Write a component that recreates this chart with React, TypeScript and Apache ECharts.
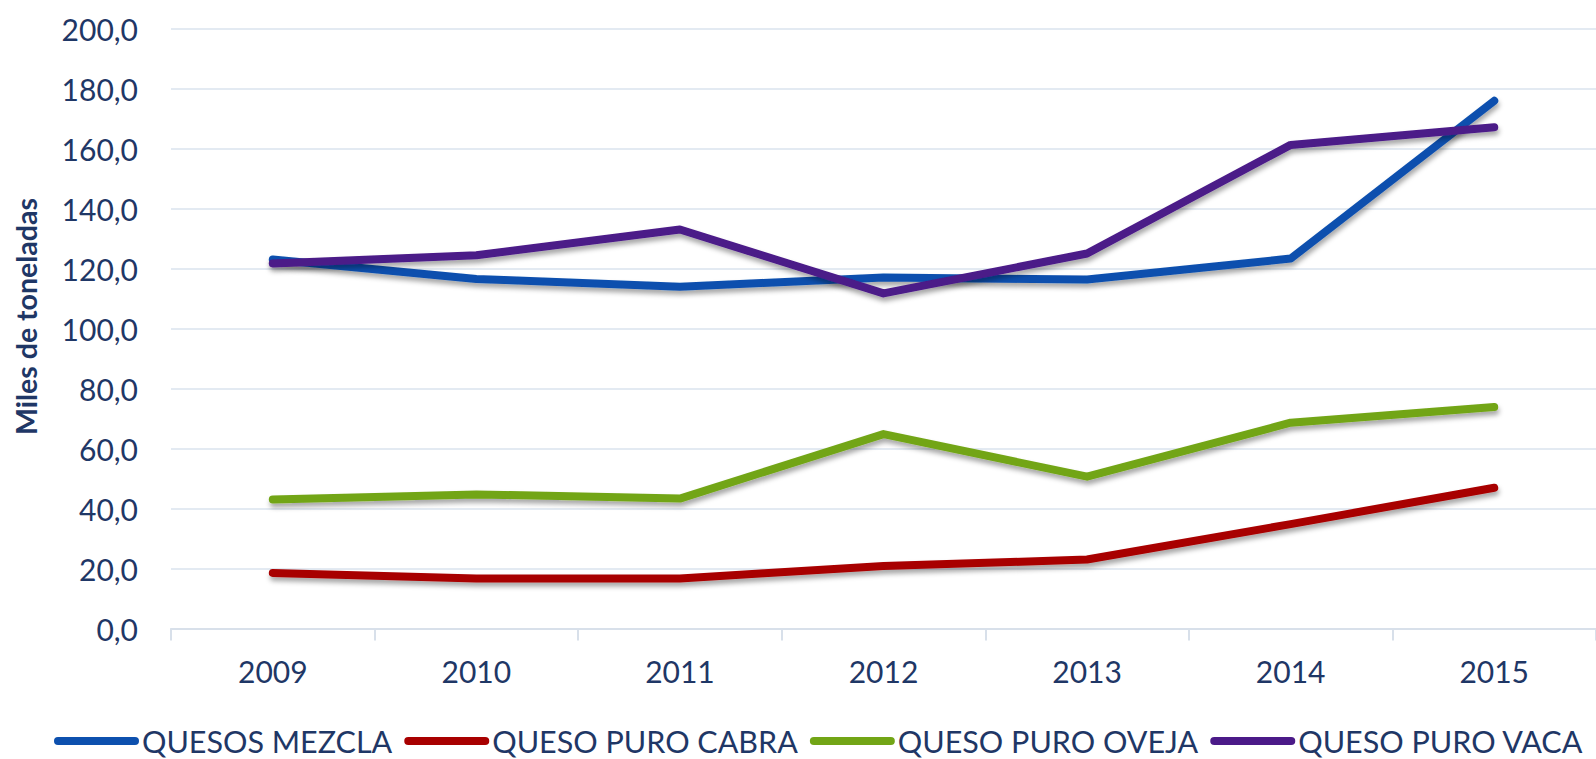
import React, { useEffect, useRef } from "react";
import * as echarts from "echarts";

const categories = ["2009", "2010", "2011", "2012", "2013", "2014", "2015"];
const seriesNames = ["QUESOS MEZCLA", "QUESO PURO CABRA", "QUESO PURO OVEJA", "QUESO PURO VACA"];
const mezcla = [123.0, 116.5, 113.9, 117.0, 116.3, 123.3, 175.9];
const cabra = [18.5, 16.7, 16.7, 20.8, 23.0, 34.8, 46.9];
const oveja = [43.0, 44.7, 43.3, 64.8, 50.6, 68.6, 73.8];
const vaca = [121.7, 124.4, 133.0, 111.7, 125.0, 161.2, 167.1];
const colors = ["#0d50ae", "#a80000", "#72a516", "#4b1a88"];
const yAxisName = "Miles de toneladas";

const TEXT = "#1f3766";
const FONT = "Lato, 'Noto Sans', sans-serif";

export default function App() {
  const ref = useRef<HTMLDivElement>(null);
  useEffect(() => {
    document.body.style.margin = "0";
    const chart = echarts.init(ref.current!, null, { renderer: "svg" });
    const values = [mezcla, cabra, oveja, vaca];
    const pill = "path://M4,0 L81,0 A4,4 0 0 1 81,8 L4,8 A4,4 0 0 1 4,0 Z";
    chart.setOption({
      animation: false,
      backgroundColor: "#ffffff",
      textStyle: { fontFamily: FONT },
      grid: { left: 171, right: -13, top: 28.5, bottom: 130.5, containLabel: false },
      legend: {
        left: 49,
        top: 719,
        itemWidth: 85,
        itemHeight: 8,
        itemGap: 12,
        icon: pill,
        data: seriesNames.map((n) => ({ name: n, icon: pill })),
        textStyle: {
          fontSize: 30.5,
          lineHeight: 34,
          color: TEXT,
          fontFamily: FONT,
          padding: [0, 0, 0, -2],
        },
      },
      xAxis: {
        type: "category",
        data: categories,
        boundaryGap: true,
        axisLine: { show: true, lineStyle: { color: "#d8e0ea", width: 2 } },
        axisTick: { show: true, length: 12, lineStyle: { color: "#d8e0ea", width: 2 } },
        axisLabel: { fontSize: 30, color: TEXT, margin: 27, fontFamily: FONT },
      },
      yAxis: {
        type: "value",
        min: 0,
        max: 200,
        interval: 20,
        name: yAxisName,
        nameLocation: "middle",
        nameRotate: 90,
        nameGap: 131,
        nameTextStyle: {
          fontSize: 28.5,
          fontWeight: "bold",
          color: TEXT,
          fontFamily: FONT,
          padding: [0, 0, 0, 24],
        },
        axisLine: { show: false },
        axisTick: { show: false },
        splitLine: { lineStyle: { color: "#e3eaf2", width: 2 } },
        axisLabel: {
          fontSize: 30,
          color: TEXT,
          margin: 33,
          fontFamily: FONT,
          formatter: (v: number) => v.toFixed(1).replace(".", ","),
        },
      },
      series: seriesNames.map((name, i) => ({
        name,
        type: "line",
        data: values[i],
        symbol: "none",
        color: colors[i],
        lineStyle: {
          width: 8,
          color: colors[i],
          cap: "round",
          join: "round",
          shadowColor: "rgba(0,0,0,0.35)",
          shadowBlur: 5,
          shadowOffsetX: 1,
          shadowOffsetY: 4,
        },
      })),
    });
    return () => chart.dispose();
  }, []);
  return <div ref={ref} style={{ width: 1596, height: 759 }} />;
}
